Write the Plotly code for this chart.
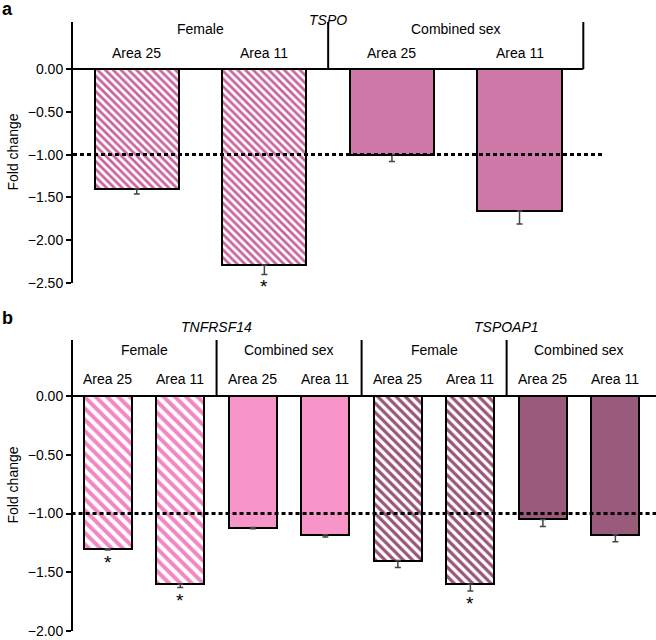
import plotly.graph_objects as go

# ---------------- data ----------------
a_gene = "TSPO"
a_groups = ["Female", "Female", "Combined sex", "Combined sex"]
a_areas = ["Area 25", "Area 11", "Area 25", "Area 11"]
a_values = [-1.40, -2.29, -1.00, -1.66]
a_errors = [0.06, 0.11, 0.08, 0.15]
a_signif = [False, True, False, False]

b_genes = ["TNFRSF14"] * 4 + ["TSPOAP1"] * 4
b_groups = ["Female", "Female", "Combined sex", "Combined sex"] * 2
b_areas = ["Area 25", "Area 11"] * 4
b_values = [-1.30, -1.60, -1.12, -1.18, -1.40, -1.60, -1.05, -1.18]
b_errors = [0.01, 0.03, 0.01, 0.02, 0.06, 0.06, 0.06, 0.06]
b_signif = [True, True, False, False, False, True, False, False]

a_ticks = [0.0, -0.5, -1.0, -1.5, -2.0, -2.5]
b_ticks = [0.0, -0.5, -1.0, -1.5, -2.0]

# colours per (gene, group)
colors = {
    ("TSPO", "Female"): ("#c8639b", True),
    ("TSPO", "Combined sex"): ("#cf79a8", False),
    ("TNFRSF14", "Female"): ("#f285c3", True),
    ("TNFRSF14", "Combined sex"): ("#f794c8", False),
    ("TSPOAP1", "Female"): ("#9a5579", True),
    ("TSPOAP1", "Combined sex"): ("#9a5a7c", False),
}
pattern_size = {"TSPO": 5.5, "TNFRSF14": 8, "TSPOAP1": 6.5}

W, H = 656, 640
FONT = "Liberation Sans, Arial, sans-serif"

fig = go.Figure()

def add_bars(genes, groups, values, errors, xaxis, yaxis):
    idx = list(range(len(values)))
    keys = []
    for g, gr in zip(genes, groups):
        if (g, gr) not in keys:
            keys.append((g, gr))
    for key in keys:
        sel = [i for i in idx if (genes[i], groups[i]) == key]
        col, hatched = colors[key]
        marker = dict(color=col, line=dict(color="black", width=2))
        if hatched:
            marker["pattern"] = dict(shape="\\", fgcolor=col, bgcolor="white",
                                     size=pattern_size[key[0]], solidity=0.5,
                                     fillmode="replace")
        fig.add_trace(go.Bar(
            x=sel, y=[values[i] for i in sel], width=0.66,
            marker=marker,
            error_y=dict(type="data", symmetric=False,
                         array=[0] * len(sel),
                         arrayminus=[errors[i] for i in sel],
                         color="#444", thickness=1.5, width=3),
            xaxis=xaxis, yaxis=yaxis, showlegend=False, hoverinfo="skip"))

add_bars([a_gene] * 4, a_groups, a_values, a_errors, "x", "y")
add_bars(b_genes, b_groups, b_values, b_errors, "x2", "y2")

# ---------------- layout geometry ----------------
a_top_px, a_zero_px, a_bot_px = 22, 69, 283
a_unit = (a_bot_px - a_zero_px) / 2.5
a_ytop = (a_zero_px - a_top_px) / a_unit
b_top_px, b_zero_px, b_bot_px = 340, 396, 631
b_unit = (b_bot_px - b_zero_px) / 2.0
b_ytop = (b_zero_px - b_top_px) / b_unit

yax_common = dict(showline=True, linecolor="black", linewidth=2,
                  ticks="outside", ticklen=5, tickwidth=2, tickcolor="black",
                  showgrid=False, zeroline=False, tickformat=".2f",
                  tickfont=dict(size=14, color="black", family=FONT),
                  automargin=False, ticklabeloverflow="allow")
xax_common = dict(showline=False, showgrid=False, zeroline=False,
                  showticklabels=False, ticks="", automargin=False)

fig.update_layout(
    width=W, height=H, margin=dict(l=0, r=0, t=0, b=0),
    plot_bgcolor="white", paper_bgcolor="white",
    font=dict(family=FONT, size=14, color="black"),
    bargap=0,
    xaxis=dict(domain=[73 / W, 605 / W], range=[-0.5, 3.67], **xax_common),
    yaxis=dict(domain=[1 - a_bot_px / H, 1 - a_top_px / H],
               range=[-2.5, a_ytop], tickvals=a_ticks, **yax_common),
    xaxis2=dict(domain=[73 / W, 1.0], range=[-0.48, 7.56], anchor="y2",
                **xax_common),
    yaxis2=dict(domain=[1 - b_bot_px / H, 1 - b_top_px / H],
                range=[-2.0, b_ytop], tickvals=b_ticks, anchor="x2",
                **yax_common),
)

shapes = []
annotations = []

def panel_decor(xr, yr, n, genes, groups, areas, ytop, y_group, y_area,
                right_end, dotted_end, gene_y):
    shapes.append(dict(type="line", xref=xr, yref=yr, x0=-0.5, x1=right_end,
                       y0=0, y1=0, line=dict(color="black", width=2)))
    shapes.append(dict(type="line", xref=xr, yref=yr, x0=-0.5, x1=dotted_end,
                       y0=-1, y1=-1,
                       line=dict(color="black", width=3, dash="4px,3px")))
    for i in range(1, n):
        if groups[i] != groups[i - 1] or genes[i] != genes[i - 1]:
            shapes.append(dict(type="line", xref=xr, yref=yr, x0=i - 0.5,
                               x1=i - 0.5, y0=0, y1=ytop,
                               line=dict(color="black", width=2)))
    for i in range(n):
        annotations.append(dict(xref=xr, yref=yr, x=i, y=y_area, text=areas[i],
                                showarrow=False, font=dict(size=14)))
    i = 0
    while i < n:
        j = i
        while j + 1 < n and groups[j + 1] == groups[i] and genes[j + 1] == genes[i]:
            j += 1
        annotations.append(dict(xref=xr, yref=yr, x=(i + j) / 2, y=y_group,
                                text=groups[i], showarrow=False,
                                font=dict(size=14)))
        i = j + 1
    i = 0
    while i < n:
        j = i
        while j + 1 < n and genes[j + 1] == genes[i]:
            j += 1
        annotations.append(dict(xref=xr, yref="paper", x=(i + j) / 2,
                                y=1 - gene_y / H, text="<i>%s</i>" % genes[i],
                                showarrow=False, font=dict(size=14)))
        i = j + 1

panel_decor("x", "y", 4, [a_gene] * 4, a_groups, a_areas, a_ytop,
            (a_zero_px - 29) / a_unit, (a_zero_px - 53) / a_unit, 3.5, 3.67, 10)
shapes.append(dict(type="line", xref="x", yref="y", x0=3.5, x1=3.5, y0=0,
                   y1=a_ytop, line=dict(color="black", width=2)))
panel_decor("x2", "y2", 8, b_genes, b_groups, b_areas, b_ytop,
            (b_zero_px - 350) / b_unit, (b_zero_px - 379) / b_unit, 7.56, 7.56,
            327)

for i, s in enumerate(a_signif):
    if s:
        annotations.append(dict(xref="x", yref="y", x=i,
                                y=a_values[i] - a_errors[i], text="*",
                                showarrow=False, yanchor="top", yshift=0,
                                font=dict(size=19)))
for i, s in enumerate(b_signif):
    if s:
        annotations.append(dict(xref="x2", yref="y2", x=i,
                                y=b_values[i] - b_errors[i], text="*",
                                showarrow=False, yanchor="top", yshift=0,
                                font=dict(size=19)))

annotations.append(dict(xref="paper", yref="paper", x=12 / W, xanchor="center",
                        y=1 - (a_top_px + a_bot_px) / 2 / H, yanchor="middle",
                        text="Fold change", textangle=-90, showarrow=False,
                        font=dict(size=14)))
annotations.append(dict(xref="paper", yref="paper", x=12 / W, xanchor="center",
                        y=1 - (b_top_px + b_bot_px) / 2 / H, yanchor="middle",
                        text="Fold change", textangle=-90, showarrow=False,
                        font=dict(size=14)))
annotations.append(dict(xref="paper", yref="paper", x=0, y=1, xanchor="left",
                        yanchor="top", text="<b>a</b>", showarrow=False,
                        font=dict(size=18), yshift=3))
annotations.append(dict(xref="paper", yref="paper", x=0, y=1 - 306 / H,
                        xanchor="left", yanchor="top", text="<b>b</b>",
                        showarrow=False, font=dict(size=18)))

fig.update_layout(shapes=shapes, annotations=annotations)
fig.write_html("out.html",
               config={"displayModeBar": False},
               post_script="document.body.style.margin='0';"
                           "document.body.style.overflow='hidden';")
